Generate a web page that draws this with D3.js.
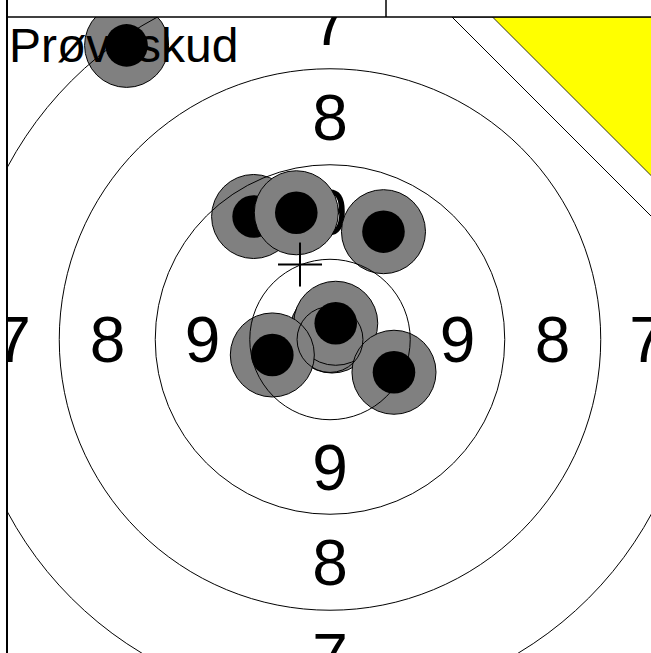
<!DOCTYPE html>
<html>
<head>
<meta charset="utf-8">
<script src="https://cdn.jsdelivr.net/npm/d3@7"></script>
<style>
  html, body { margin: 0; padding: 0; background: #fff; }
  svg { display: block; }
</style>
</head>
<body>
<div id="target"></div>
<script>
// target geometry, in mm from the centre (x to the right, y up)
const ringRadii = [3.45, 8.4, 18.3, 28.35, 38.3];   // inner ten, 10, 9, 8, 7
const ringLabels = [9, 8, 7];
const labelDist = [13.35, 23.3, 33.2];

// shots of the series
const shotX = [-8.0, -3.53, 5.6, 0.21, 0.6, -6.04, 6.7];
const shotY = [12.88, 13.27, 11.29, 0.89, 1.7, -1.62, -3.43];

// sighting shot ("Prøveskud")
const sighterX = [-21.3];
const sighterY = [30.8];

// mean point of impact marker
const mpiX = [-3.14];
const mpiY = [7.85];

const width = 651, height = 653;
const cx = 330, cy = 339.5, pxPerTen = 95.5;
const holeR = 4.4, coreR = 2.23;

const x = d3.scaleLinear().domain([0, 10]).range([cx, cx + pxPerTen]);
const y = d3.scaleLinear().domain([0, 10]).range([cy, cy - pxPerTen]);
const r = d3.scaleLinear().domain([0, 10]).range([0, pxPerTen]);

const svg = d3.select("#target")
  .append("svg")
  .attr("width", width)
  .attr("height", height);

svg.append("defs").append("clipPath").attr("id", "area")
  .append("rect")
  .attr("x", 8).attr("y", 17)
  .attr("width", width - 8).attr("height", height - 17);

const g = svg.append("g").attr("clip-path", "url(#area)");

// ring numbers (under the shots)
const dirs = [[0, 1], [1, 0], [0, -1], [-1, 0]];
const labels = [];
ringLabels.forEach((lab, i) => {
  dirs.forEach(d => labels.push({ text: lab, px: d[0] * labelDist[i], py: d[1] * labelDist[i] }));
});
g.selectAll("text.ring")
  .data(labels)
  .enter()
  .append("text")
  .attr("class", "ring")
  .attr("x", d => x(d.px))
  .attr("y", d => y(d.py))
  .attr("dy", "0.358em")
  .attr("text-anchor", "middle")
  .style("font-family", "'Liberation Sans', Arial, sans-serif")
  .style("font-size", "64px")
  .attr("fill", "#000")
  .text(d => d.text);

// shots
function drawShots(xs, ys) {
  const data = xs.map((v, i) => ({ sx: v, sy: ys[i] }));
  const s = g.append("g").selectAll("g")
    .data(data)
    .enter()
    .append("g");
  s.append("circle")
    .attr("cx", d => x(d.sx)).attr("cy", d => y(d.sy))
    .attr("r", r(holeR))
    .attr("fill", "#808080")
    .attr("stroke", "#000").attr("stroke-width", 1);
  s.append("circle")
    .attr("cx", d => x(d.sx)).attr("cy", d => y(d.sy))
    .attr("r", r(coreR))
    .attr("fill", "#000");
}
drawShots(sighterX, sighterY);
drawShots(shotX, shotY);

// ring lines go on top of the shots
g.selectAll("circle.ringline")
  .data(ringRadii)
  .enter()
  .append("circle")
  .attr("class", "ringline")
  .attr("cx", x(0)).attr("cy", y(0))
  .attr("r", d => r(d))
  .attr("fill", "none")
  .attr("stroke", "#000")
  .attr("stroke-width", 1);

// mean point of impact
const arm = 22;
g.append("line")
  .attr("x1", x(mpiX[0]) - arm).attr("x2", x(mpiX[0]) + arm)
  .attr("y1", y(mpiY[0])).attr("y2", y(mpiY[0]))
  .attr("stroke", "#000").attr("stroke-width", 2);
g.append("line")
  .attr("x1", x(mpiX[0])).attr("x2", x(mpiX[0]))
  .attr("y1", y(mpiY[0]) - arm).attr("y2", y(mpiY[0]) + arm)
  .attr("stroke", "#000").attr("stroke-width", 2);

g.append("text")
  .attr("x", 9)
  .attr("y", 62)
  .style("font-family", "'Liberation Sans', Arial, sans-serif")
  .style("font-size", "48px")
  .attr("fill", "#000")
  .text("Prøveskud");

// corner marker, top right (covers the rings)
g.append("polygon")
  .attr("points", "452,17 720,17 720,285")
  .attr("fill", "#fff")
  .attr("stroke", "#000").attr("stroke-width", 1);
g.append("polygon")
  .attr("points", "492.5,17 700,17 700,224.5")
  .attr("fill", "#ffff00")
  .attr("stroke", "#000").attr("stroke-width", 0.8);

// header cells and frame
svg.append("line")
  .attr("x1", 7).attr("x2", width)
  .attr("y1", 17).attr("y2", 17)
  .attr("stroke", "#000").attr("stroke-width", 1.5);
svg.append("line")
  .attr("x1", 386).attr("x2", 386)
  .attr("y1", 0).attr("y2", 17)
  .attr("stroke", "#000").attr("stroke-width", 1.5);
svg.append("line")
  .attr("x1", 7).attr("x2", 7)
  .attr("y1", 0).attr("y2", height)
  .attr("stroke", "#000").attr("stroke-width", 2);
</script>
</body>
</html>
